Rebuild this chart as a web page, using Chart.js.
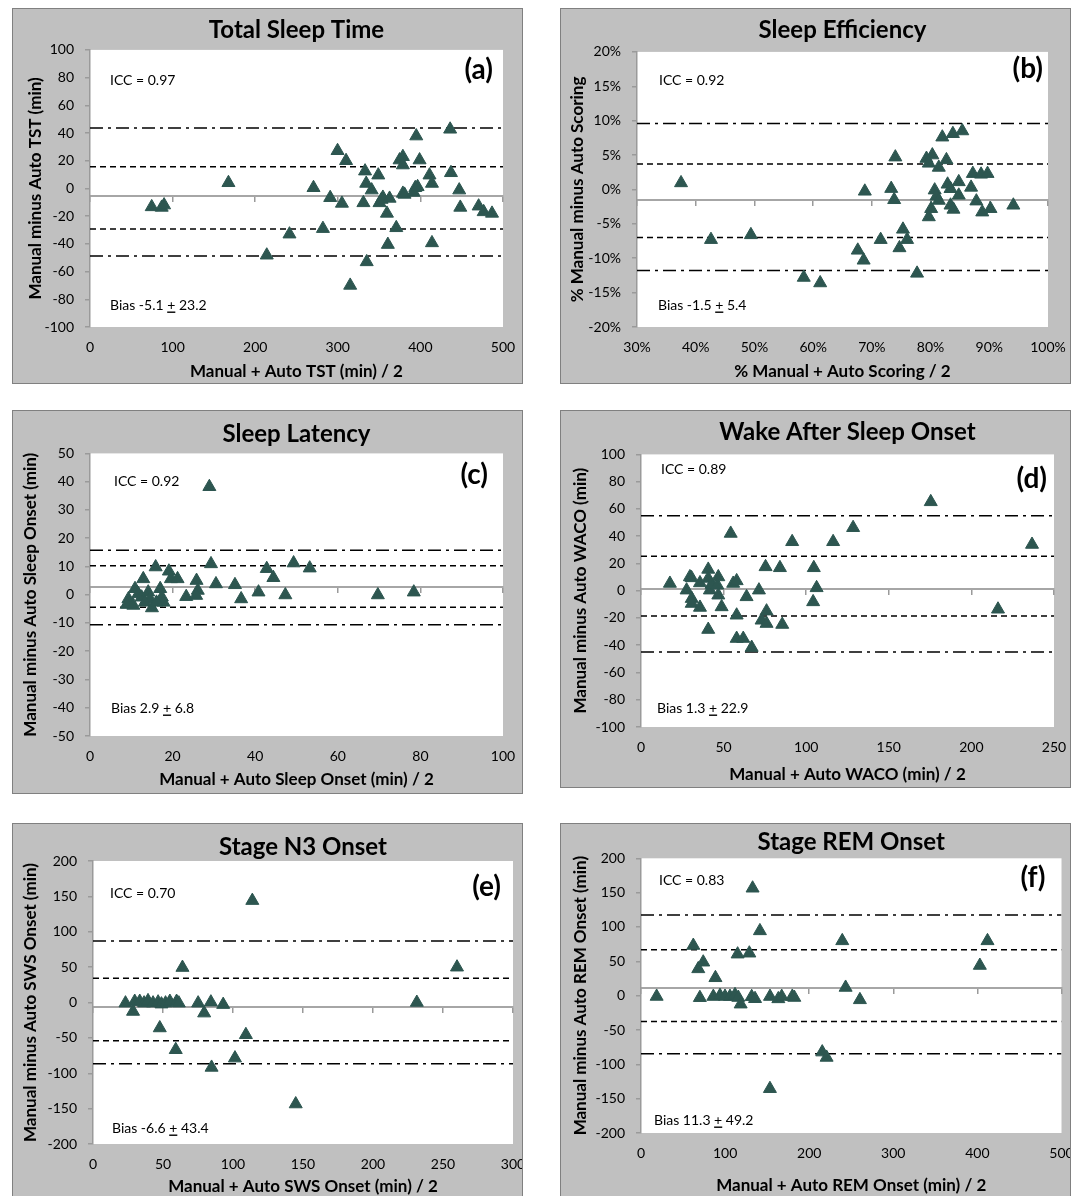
<!DOCTYPE html>
<html>
<head>
<meta charset="utf-8">
<script src="https://cdn.jsdelivr.net/npm/chart.js"></script>
<style>
body { margin: 0; width: 1075px; height: 1196px; overflow: hidden; background: #fff; position: relative; }
.box { position: absolute; background: #c0c0c0; border: 1px solid #808080; box-sizing: border-box; }
.box canvas { display: block; }
</style>
</head>
<body>
<div class="box" style="left:12px;top:8px;width:511px;height:376px"><canvas id="tst" width="509" height="374"></canvas></div>
<div class="box" style="left:560px;top:8px;width:511px;height:376px"><canvas id="se" width="509" height="374"></canvas></div>
<div class="box" style="left:12px;top:410px;width:511px;height:384px"><canvas id="sl" width="509" height="382"></canvas></div>
<div class="box" style="left:560px;top:410px;width:511px;height:378px"><canvas id="waso" width="509" height="376"></canvas></div>
<div class="box" style="left:12px;top:823px;width:511px;height:382px"><canvas id="sws" width="509" height="380"></canvas></div>
<div class="box" style="left:560px;top:823px;width:511px;height:382px"><canvas id="rem" width="509" height="380"></canvas></div>
<script>
// (a) total sleep time
const tstMean = [74.7, 86.8, 89.7, 167.6, 214, 241.5, 270.6, 282, 290.8, 299.7, 305, 310, 315, 331, 333, 334.4, 335, 341, 349, 350.5, 353, 354.6, 359.5, 360.6, 362.7, 370.8, 374.8, 378.8, 378.8, 378.8, 380.8, 391.8, 393.8, 395, 396.6, 399, 411, 414, 414, 436, 437, 447, 448.3, 470.5, 476.6, 486.7];
const tstDiff = [-13.3, -13.7, -12, 4.1, -48.2, -33, 0.5, -29, -6.7, 27.2, -10.8, 20, -70, -10.4, 12.5, 3.6, -53, -1.2, 9.6, -10.4, -8, -6.5, -18, -40.5, -7.2, -28.4, 20.5, 22.9, 16.9, -3.6, -4.3, -2.9, 0.5, 37.8, 1.2, 20.5, 9.6, 3.6, -39.3, 42.7, 11.3, -1.2, -13.7, -12.8, -16.9, -18];
const tstBias = -5.1;
const tstLimits = [43.6, 15.7, -29.3, -48.8];
const tstXTicks = [0, 500, 100];
const tstYTicks = [-100, 100, 20];

// (b) sleep efficiency, percent
const seMean = [37.5, 42.6, 49.4, 58.4, 61.2, 67.6, 68.6, 68.8, 71.5, 73.3, 73.8, 74.0, 74.7, 75.3, 76.0, 77.7,
  79.3, 80.3, 79.7, 81.4, 82.7, 82.0, 83.8, 85.4, 87.2, 88.6, 89.7, 82.9, 83.4, 84.8, 86.9, 80.7, 81.0, 84.8, 81.4, 80.1, 79.7, 83.4, 83.9, 87.8, 88.8, 90.2, 94.1];
const seDiff = [0.95, -7.3, -6.6, -12.8, -13.6, -8.85, -10.3, -0.27, -7.3, 0.12, -1.5, 4.7, -8.5, -5.8, -7.3, -12.2,
  4.5, 5.0, 3.8, 3.2, 4.3, 7.6, 8.1, 8.5, 2.3, 2.2, 2.3, 0.75, 0.1, 1.1, 0.3, -0.1, -1.0, -0.85, -1.6, -2.8, -4.0, -2.3, -2.9, -1.7, -3.3, -2.8, -2.3];
const seBias = -1.5;
const seLimits = [9.6, 3.7, -7.0, -11.8];
const seXTicks = [30, 100, 10];
const seYTicks = [-20, 20, 5];

// (c) sleep latency
const slMean = [28.9, 29.3, 30.5, 35.1, 36.6, 40.8, 42.8, 44.4, 47.3, 49.3, 53.2, 69.7, 78.4, 23.3, 25.8, 26.1, 25.7,
  15.9, 12.9, 19.1, 19.6, 21.2, 10.9, 11.7, 9.3, 8.9, 10.5, 12.5, 14.1, 14.5, 13.3, 15.0, 17.0, 17.4, 17.8, 16.1];
const slDiff = [38.2, 10.9, 3.8, 3.5, -1.5, 0.9, 9.2, 6.0, -0.1, 11.2, 9.4, -0.1, 0.9, -0.7, 5.0, 1.5, -0.3,
  9.8, 5.6, 8.3, 5.6, 5.6, 2.1, 0.3, -1.5, -3.5, -3.8, -0.9, 0.9, -1.5, -2.7, -4.7, 2.1, -0.9, -2.7, -2.7];
const slBias = 2.9;
const slLimits = [15.7, 10.2, -4.4, -10.6];
const slXTicks = [0, 100, 20];
const slYTicks = [-50, 50, 10];

// (d) wake after sleep onset
const wasoMean = [17.5, 27.6, 29.6, 30.6, 30.7, 30.7, 35.7, 35.7, 40.7, 40.7, 41.7, 40.7, 42.7, 46.8, 46.2, 46.8, 48.8, 54.3, 55.8, 57.9, 57.9, 57.9, 61.9, 63.9, 67, 71.4, 73, 75.4, 76, 76, 84.1, 85.5, 91.5, 104.6, 104.2, 106.3, 116.3, 128.4, 175.4, 216.1, 236.7];
const wasoDiff = [5.3, 0.4, 10.1, 9.4, -5.8, -9.4, -12.3, 5.7, 15.6, 9, 0.4, -28.5, 4.5, 10.1, 4, -3.3, -11.9, 42, 5.3, 7.2, -18, -35.1, -35.1, -4.5, -41.7, 0.4, -21.7, 17.5, -15, -24.1, 16.8, -24.8, 35.9, 16.8, -8.2, 2.1, 35.9, 46.2, 65.2, -13.6, 33.9];
const wasoBias = 1.3;
const wasoLimits = [55, 25.3, -18.5, -44.9];
const wasoXTicks = [0, 250, 50];
const wasoYTicks = [-100, 100, 20];

// (e) stage N3 onset
const swsMean = [23.2, 28.6, 29.8, 33.4, 36.5, 39.3, 42.9, 46.5, 48.9, 51.8, 54.9, 59.7, 61.3, 47.7, 75.1, 79.4, 84.2, 93, 59.1, 63.9, 84.7, 101.4, 109.2, 113.8, 144.8, 231.3, 260];
const swsDiff = [-0.9, -12.7, 1.4, 1.4, -0.9, 2.3, -0.9, 0.5, -2.3, -0.9, 1.4, 1.4, -0.9, -36, -0.9, -15, 0.5, -3, -66.8, 49.4, -91.8, -78.6, -45.6, 144, -143.5, 0, 49.9];
const swsBias = -6.6;
const swsLimits = [87, 34.4, -54, -86.6];
const swsXTicks = [0, 300, 50];
const swsYTicks = [-200, 200, 50];

// (f) stage REM onset
const remMean = [18.6, 62.2, 68.1, 74, 70, 86, 88.5, 93.9, 99.9, 105.8, 111.8, 115.7, 118.5, 114.9, 128.8, 132.7, 131.6, 135.6, 141.4, 153.4, 153.3, 163.3, 167.3, 179.9, 182.3, 215.5, 220.7, 239.3, 243.3, 260.3, 402.9, 412];
const remDiff = [-1.2, 73, 39, 48.7, -3, -1.3, 26, 0.1, -1.3, -1.3, 1.2, -2.7, -12.4, 60.4, 61.8, 156.4, -1.5, -4.5, 94.3, -1.3, -135.5, -4.7, -1.3, -1.2, -2.7, -82.2, -90, 79.8, 11.9, -6.1, 43.9, 79.8];
const remBias = 11.3;
const remLimits = [117.6, 66.7, -37.6, -84.6];
const remXTicks = [0, 500, 100];
const remYTicks = [-200, 200, 50];

Chart.defaults.font.family = 'Lato';
Chart.defaults.color = '#000';

const markerColor = '#2d5650';

const plotBg = {
  id: 'plotBg',
  beforeDraw(chart) {
    const a = chart.chartArea;
    chart.ctx.save();
    chart.ctx.fillStyle = '#fff';
    chart.ctx.fillRect(a.left, a.top, a.right - a.left, a.bottom - a.top);
    chart.ctx.restore();
  }
};

// ICC, bias text and panel letter
const notes = {
  id: 'notes',
  afterDraw(chart, args, o) {
    const ctx = chart.ctx, a = chart.chartArea;
    ctx.save();
    ctx.fillStyle = '#000';
    ctx.textBaseline = 'middle';
    ctx.textAlign = 'left';
    ctx.font = '14px Lato';
    ctx.fillText(o.icc, a.left + o.iccAt[0], a.top + o.iccAt[1]);
    let x = a.left + o.biasAt[0];
    const y = a.bottom + o.biasAt[1];
    const pre = 'Bias ' + o.bias + ' ';
    ctx.fillText(pre, x, y);
    x += ctx.measureText(pre).width;
    const pw = ctx.measureText('+').width;
    ctx.fillText('+', x, y);
    ctx.fillRect(x, y + 6.5, pw, 1.4);
    x += pw;
    ctx.fillText(' ' + o.sd, x, y);
    ctx.font = 'bold 28px Lato';
    ctx.textAlign = 'right';
    ctx.fillText(o.tag, a.right + o.tagAt[0], a.top + o.tagAt[1]);
    ctx.restore();
  }
};

function panel(id, p) {
  const pts = p.mean.map((m, i) => ({ x: m, y: p.diff[i] }));
  const limit = (v, dash) => ({
    type: 'line',
    data: [{ x: p.xt[0], y: v }, { x: p.xt[1], y: v }],
    borderColor: '#000', borderWidth: 1.5, borderDash: dash,
    pointRadius: 0, order: 2
  });
  const fmt = p.pct ? (v => v + '%') : (v => v);
  const noPad = s => { s.paddingLeft = 0; s.paddingRight = 0; s.paddingTop = 0; s.paddingBottom = 0; };

  new Chart(document.getElementById(id), {
    type: 'scatter',
    data: {
      datasets: [
        {
          data: pts, pointStyle: 'triangle', pointRadius: 7.5,
          backgroundColor: markerColor, borderColor: markerColor, borderWidth: 1, order: 1
        },
        limit(p.limits[0], [13, 5, 3, 5]),
        limit(p.limits[1], [6, 4]),
        limit(p.limits[2], [6, 4]),
        limit(p.limits[3], [13, 5, 3, 5])
      ]
    },
    options: {
      responsive: false,
      animation: false,
      events: [],
      layout: { padding: { left: 0, top: 0, right: p.padR, bottom: 0 } },
      plugins: {
        legend: { display: false },
        tooltip: { enabled: false },
        title: {
          display: true, text: p.title, fullSize: false,
          font: { size: 24, weight: 'bold', lineHeight: 1.1 },
          padding: { top: p.titlePad[0], bottom: p.titlePad[1] }
        },
        notes: p.notes
      },
      scales: {
        x: {
          type: 'linear', axis: 'x', min: p.xt[0], max: p.xt[1],
          position: { y: p.bias },
          ticks: { display: false, stepSize: p.xt[2] },
          grid: { drawOnChartArea: false, tickLength: 5, color: '#9a9a9a', lineWidth: 1.5 },
          border: { color: '#a6a6a6', width: 2 },
          afterFit: noPad
        },
        xl: {
          type: 'linear', axis: 'x', min: p.xt[0], max: p.xt[1], position: 'bottom',
          ticks: { stepSize: p.xt[2], padding: 12, font: { size: 14 }, callback: fmt },
          grid: { display: false, drawTicks: false },
          border: { display: false },
          title: {
            display: true, text: p.xTitle,
            font: { size: 17, weight: 'bold', lineHeight: 1.2 },
            padding: { top: 0, bottom: p.xTitlePad }
          },
          afterFit: s => { s.height = p.xH; noPad(s); }
        },
        y: {
          type: 'linear', min: p.yt[0], max: p.yt[1], position: 'left',
          ticks: { stepSize: p.yt[2], padding: 11, font: { size: 14 }, callback: fmt },
          grid: { drawOnChartArea: false, tickLength: 5, color: '#9a9a9a', lineWidth: 1.5 },
          border: { color: '#9a9a9a', width: 1.5 },
          title: {
            display: true, text: p.yTitle,
            font: { size: 17, weight: 'bold', lineHeight: 1.2 },
            padding: { top: p.yTitlePad, bottom: 0 }
          },
          afterFit: s => { s.width = p.yW; noPad(s); }
        }
      }
    },
    plugins: [plotBg, notes]
  });
}

panel('tst', {
  mean: tstMean, diff: tstDiff, bias: tstBias, limits: tstLimits, xt: tstXTicks, yt: tstYTicks,
  title: 'Total Sleep Time', xTitle: 'Manual + Auto TST (min) / 2', yTitle: 'Manual minus Auto TST (min)',
  yW: 77, padR: 19, titlePad: [8.5, 6], xH: 56, xTitlePad: 1, yTitlePad: 12,
  notes: { icc: 'ICC = 0.97', bias: '-5.1', sd: '23.2', tag: '(a)', iccAt: [20, 31], biasAt: [20, -22], tagAt: [-10, 20] }
});
panel('se', {
  mean: seMean, diff: seDiff, bias: seBias, limits: seLimits, xt: seXTicks, yt: seYTicks, pct: true,
  title: 'Sleep Efficiency', xTitle: '% Manual + Auto Scoring / 2', yTitle: '% Manual minus Auto Scoring',
  yW: 76, padR: 22, titlePad: [8.5, 8], xH: 56, xTitlePad: 1, yTitlePad: 6,
  notes: { icc: 'ICC = 0.92', bias: '-1.5', sd: '5.4', tag: '(b)', iccAt: [22, 29], biasAt: [21, -22], tagAt: [-5, 17] }
});
panel('sl', {
  mean: slMean, diff: slDiff, bias: slBias, limits: slLimits, xt: slXTicks, yt: slYTicks,
  title: 'Sleep Latency', xTitle: 'Manual + Auto Sleep Onset (min) / 2', yTitle: 'Manual minus Auto Sleep Onset (min)',
  yW: 77, padR: 19, titlePad: [10, 6], xH: 57, xTitlePad: 3, yTitlePad: 7,
  notes: { icc: 'ICC = 0.92', bias: '2.9', sd: '6.8', tag: '(c)', iccAt: [24, 28], biasAt: [21, -28], tagAt: [-15, 22] }
});
panel('waso', {
  mean: wasoMean, diff: wasoDiff, bias: wasoBias, limits: wasoLimits, xt: wasoXTicks, yt: wasoYTicks,
  title: 'Wake After Sleep Onset', xTitle: 'Manual + Auto WACO (min) / 2', yTitle: 'Manual minus Auto WACO (min)',
  yW: 80, padR: 16, titlePad: [8, 9], xH: 60, xTitlePad: 2, yTitlePad: 9,
  notes: { icc: 'ICC = 0.89', bias: '1.3', sd: '22.9', tag: '(d)', iccAt: [20, 15], biasAt: [16, -19], tagAt: [-7, 25] }
});
panel('sws', {
  mean: swsMean, diff: swsDiff, bias: swsBias, limits: swsLimits, xt: swsXTicks, yt: swsYTicks,
  title: 'Stage N3 Onset', xTitle: 'Manual + Auto SWS Onset (min) / 2', yTitle: 'Manual minus Auto SWS Onset (min)',
  yW: 80, padR: 9, titlePad: [10, 0.6], xH: 60, xTitlePad: 7, yTitlePad: 7,
  notes: { icc: 'ICC = 0.70', bias: '-6.6', sd: '43.4', tag: '(e)', iccAt: [17, 32], biasAt: [19, -16], tagAt: [-12, 26] }
});
panel('rem', {
  mean: remMean, diff: remDiff, bias: remBias, limits: remLimits, xt: remXTicks, yt: remYTicks,
  title: 'Stage REM Onset', xTitle: 'Manual + Auto REM Onset (min) / 2', yTitle: 'Manual minus Auto REM Onset (min)',
  yW: 80, padR: 8, titlePad: [5, 2.9], xH: 71, xTitlePad: 8, yTitlePad: 9,
  notes: { icc: 'ICC = 0.83', bias: '11.3', sd: '49.2', tag: '(f)', iccAt: [18, 22], biasAt: [13, -13], tagAt: [-16, 20] }
});
</script>
</body>
</html>
